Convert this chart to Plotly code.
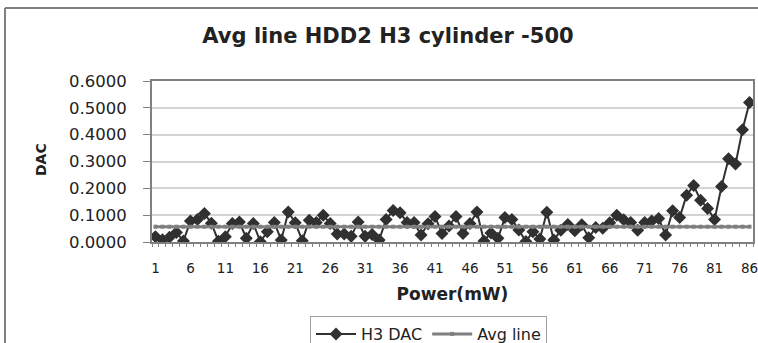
import plotly.graph_objects as go

title_text = "Avg line HDD2 H3 cylinder -500"
x_title = "Power(mW)"
y_title = "DAC"
series_names = ["H3 DAC", "Avg line"]

power = list(range(1, 87))
h3_dac = [
    0.020, 0.008, 0.018, 0.035, 0.004, 0.078, 0.084, 0.106, 0.070, 0.003,
    0.020, 0.069, 0.075, 0.014, 0.069, 0.001, 0.038, 0.073, 0.007, 0.112,
    0.072, 0.005, 0.081, 0.073, 0.100, 0.069, 0.030, 0.030, 0.021, 0.075,
    0.021, 0.028, 0.007, 0.084, 0.117, 0.109, 0.073, 0.073, 0.026, 0.068,
    0.095, 0.032, 0.060, 0.095, 0.032, 0.069, 0.112, 0.004, 0.034, 0.014,
    0.091, 0.084, 0.045, 0.002, 0.038, 0.011, 0.111, 0.007, 0.044, 0.065,
    0.042, 0.064, 0.016, 0.054, 0.051, 0.072, 0.100, 0.083, 0.073, 0.044,
    0.073, 0.078, 0.088, 0.026, 0.116, 0.091, 0.174, 0.211, 0.156, 0.125,
    0.084, 0.207, 0.310, 0.291, 0.418, 0.520,
]
avg_value = 0.057
avg_line = [avg_value] * len(power)
x_tickvals = list(range(1, 87, 5))
y_tickvals = [0.0, 0.1, 0.2, 0.3, 0.4, 0.5, 0.6]

W, H = 758, 343
ML, MR, MT, MB = 152, 5, 81, 101
pw = W - ML - MR
ph = H - MT - MB

def px_x(p):
    return (p - ML) / pw

def px_y(p):
    return (H - MB - p) / ph

FONT = "DejaVu Sans, Arial, sans-serif"

fig = go.Figure()
fig.add_trace(go.Scatter(
    x=power, y=h3_dac, name=series_names[0], mode="lines+markers",
    line=dict(color="#303030", width=2),
    marker=dict(symbol="diamond", size=10, color="#303030"),
))
fig.add_trace(go.Scatter(
    x=power, y=avg_line, name=series_names[1], mode="lines+markers",
    line=dict(color="#7f7f7f", width=3),
    marker=dict(symbol="square", size=4, color="#7f7f7f"),
))
# invisible helper trace for tick-mark axis
fig.add_trace(go.Scatter(x=[power[0]], y=[avg_value], xaxis="x2", mode="markers",
                         marker=dict(opacity=0), showlegend=False, hoverinfo="skip"))

fig.update_layout(
    width=W, height=H,
    margin=dict(l=ML, r=MR, t=MT, b=MB, autoexpand=False),
    paper_bgcolor="white", plot_bgcolor="white",
    font=dict(family=FONT, size=15, color="#222222"),
    title=dict(text="<b>" + title_text + "</b>", x=388 / W, xanchor="center",
               y=1 - 36 / H, yanchor="middle", font=dict(size=21, color="#222222")),
    showlegend=True,
    legend=dict(orientation="h", xref="container", yref="container",
                x=310 / W, xanchor="left", y=1 - 316 / H, yanchor="top",
                bordercolor="#a0a0a0", borderwidth=1, font=dict(size=16),
                itemwidth=40, bgcolor="white", tracegroupgap=0),
    xaxis=dict(range=[0.5, 86.5], tickmode="array", tickvals=x_tickvals,
               ticks="", showgrid=False, zeroline=False, automargin=False,
               showline=True, linecolor="#808080", linewidth=2, mirror=True,
               ticklabelstandoff=13, ticklabeloverflow="allow", tickfont=dict(size=13.5),
               title=dict(text="<b>" + x_title + "</b>", font=dict(size=17), standoff=13)),
    xaxis2=dict(range=[0.5, 86.5], overlaying="x", anchor="y", side="bottom",
                tick0=0.5, dtick=1, ticks="outside", ticklen=4, tickcolor="#808080",
                showticklabels=False, showgrid=False, zeroline=False, showline=False),
    yaxis=dict(range=[0, 0.6], tickvals=y_tickvals, tickformat=".4f",
               ticks="outside", ticklen=7, tickcolor="#808080", automargin=False,
               showgrid=True, gridcolor="#d4d4d4", gridwidth=2, zeroline=False,
               showline=True, linecolor="#808080", linewidth=2, mirror=True,
               ticklabelstandoff=13, tickfont=dict(size=16.5)),
    annotations=[dict(text="<b>" + y_title + "</b>", textangle=-90, xref="paper", yref="paper",
                      x=px_x(41), y=px_y(160), xanchor="center", yanchor="middle",
                      showarrow=False, font=dict(size=14, color="#222222"))],
    shapes=[
        dict(type="line", xref="paper", yref="paper", x0=px_x(5), x1=px_x(5),
             y0=px_y(8), y1=px_y(H + 5), line=dict(color="#808080", width=2)),
        dict(type="line", xref="paper", yref="paper", x0=px_x(5), x1=px_x(W + 5),
             y0=px_y(8), y1=px_y(8), line=dict(color="#808080", width=2)),
    ],
)

fig.write_html(
    "out.html",
    config={"displayModeBar": False},
    post_script="document.body.style.margin='0';document.body.style.overflow='hidden';",
)
